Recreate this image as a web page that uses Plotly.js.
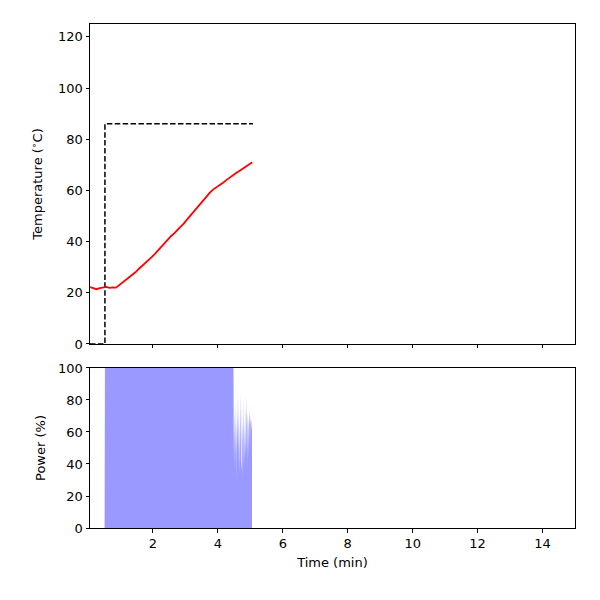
<!DOCTYPE html>
<html>
<head>
<meta charset="utf-8">
<script src="https://cdn.plot.ly/plotly-3.0.1.min.js"></script>
<style>
  html, body { margin: 0; padding: 0; background: #fff; }
  #chart { width: 600px; height: 600px; }
</style>
</head>
<body>
<div id="chart"></div>
<script>
// temperature log (min, degC)
var tempTime = [0.06, 0.16, 0.26, 0.36, 0.46, 0.56, 0.66, 0.76, 0.86, 0.96,
  1.06, 1.16, 1.26, 1.36, 1.46, 1.56, 1.66, 1.76, 1.86, 1.96,
  2.06, 2.16, 2.26, 2.36, 2.46, 2.56, 2.66, 2.76, 2.86, 2.96,
  3.06, 3.16, 3.26, 3.36, 3.46, 3.56, 3.66, 3.76, 3.86, 3.96,
  4.06, 4.16, 4.26, 4.36, 4.46, 4.56, 4.66, 4.76, 4.86, 4.96, 5.06];
var tempValue = [22.2, 21.9, 21.4, 21.8, 22.0, 22.3, 21.9, 22.1, 22.0, 23.0,
  23.9, 24.9, 25.9, 27.1, 28.0, 29.3, 30.4, 31.5, 32.6, 33.9,
  35.2, 36.6, 38.1, 39.7, 41.0, 42.2, 43.3, 44.5, 45.9, 47.2,
  48.8, 50.3, 51.9, 53.4, 55.0, 56.5, 57.9, 59.2, 60.4, 61.2,
  62.1, 63.0, 64.0, 65.0, 65.9, 66.8, 67.6, 68.5, 69.3, 70.2, 71.0];

// setpoint
var setTime = [0.06, 0.52, 0.52, 5.08];
var setTemp = [0, 0, 86, 86];

// heater power (%)
var powerTime = [0.06, 0.51, 0.52, 4.48,
  4.49, 4.50, 4.51, 4.52, 4.53, 4.54, 4.55, 4.56, 4.57, 4.58,
  4.59, 4.60, 4.61, 4.62, 4.63, 4.64, 4.65, 4.66, 4.67, 4.68,
  4.69, 4.70, 4.71, 4.72, 4.73, 4.74, 4.75, 4.76, 4.77, 4.78,
  4.79, 4.80, 4.81, 4.82, 4.83, 4.84, 4.85, 4.86, 4.87, 4.88,
  4.89, 4.90, 4.91, 4.92, 4.93, 4.94, 4.95, 4.96, 4.97, 4.98,
  4.99, 5.00, 5.01, 5.02, 5.03, 5.04, 5.05];
var powerValue = [0, 0, 100, 100,
  44, 78, 36, 70, 48, 82, 40, 66, 30, 74,
  46, 86, 52, 72, 38, 80, 50, 68, 34, 76,
  55, 84, 42, 70, 36, 78, 54, 66, 32, 74,
  48, 80, 40, 64, 50, 76, 44, 70, 56, 82,
  46, 68, 38, 72, 52, 62, 44, 74, 58, 66,
  48, 70, 54, 64, 60, 68, 66];

var font = { family: 'DejaVu Sans, sans-serif', size: 13, color: '#000' };

function axis(extra) {
  var a = {
    showline: true,
    linecolor: '#000',
    linewidth: 1,
    mirror: true,
    ticks: 'outside',
    ticklen: 3.5,
    tickwidth: 1,
    tickcolor: '#000',
    showgrid: false,
    zeroline: false,
    tickfont: font
  };
  for (var k in extra) a[k] = extra[k];
  return a;
}

var traces = [
  {
    x: setTime, y: setTemp,
    type: 'scatter', mode: 'lines',
    line: { color: '#000', width: 1.5, dash: '5.5px,2.4px' },
    xaxis: 'x', yaxis: 'y',
    hoverinfo: 'skip'
  },
  {
    x: tempTime, y: tempValue,
    type: 'scatter', mode: 'lines',
    line: { color: '#ff0000', width: 1.8 },
    xaxis: 'x', yaxis: 'y'
  },
  {
    x: powerTime, y: powerValue,
    type: 'scatter', mode: 'lines',
    fill: 'tozeroy',
    fillcolor: 'rgb(153,153,255)',
    line: { width: 0, color: 'rgb(153,153,255)' },
    xaxis: 'x2', yaxis: 'y2'
  }
];

var layout = {
  width: 600,
  height: 600,
  margin: { l: 0, r: 0, t: 0, b: 0 },
  showlegend: false,
  paper_bgcolor: '#fff',
  plot_bgcolor: '#fff',
  font: font,
  xaxis: axis({
    domain: [0.15, 0.9583],
    anchor: 'y',
    range: [0.06, 15],
    dtick: 2, tick0: 0,
    showticklabels: false,
    matches: 'x2'
  }),
  yaxis: axis({
    domain: [0.4267, 0.96],
    anchor: 'x',
    range: [0, 125],
    dtick: 20,
    title: { text: 'Temperature (<sup>∘</sup>C)', font: font, standoff: 12 }
  }),
  xaxis2: axis({
    domain: [0.15, 0.9583],
    anchor: 'y2',
    range: [0.06, 15],
    dtick: 2, tick0: 0,
    title: { text: 'Time (min)', font: font, standoff: 7 }
  }),
  yaxis2: axis({
    domain: [0.12, 0.3867],
    anchor: 'x2',
    range: [0, 100],
    dtick: 20,
    title: { text: 'Power (%)', font: font, standoff: 9 }
  })
};

Plotly.newPlot('chart', traces, layout, { displayModeBar: false, staticPlot: true });
</script>
</body>
</html>
